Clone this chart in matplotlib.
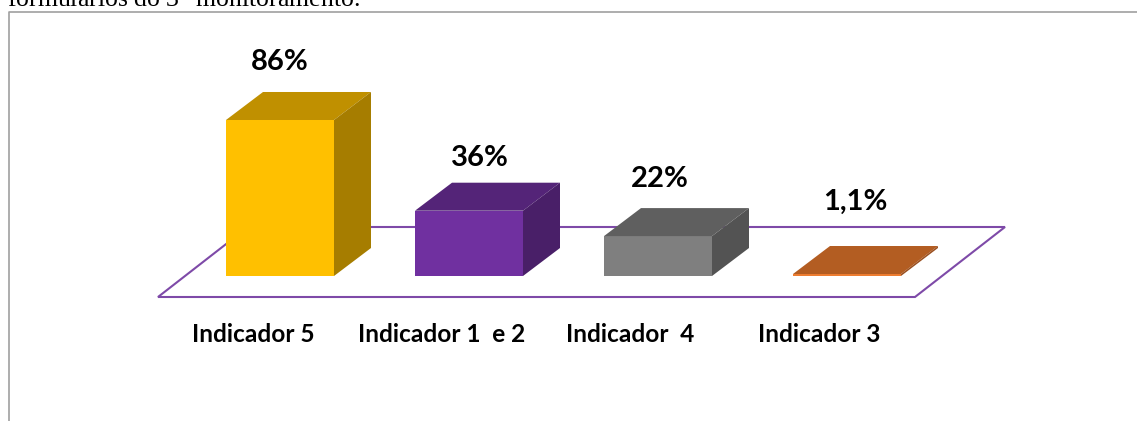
import matplotlib
matplotlib.use("Agg")
import matplotlib.pyplot as plt
from matplotlib.patches import Polygon, Rectangle

categories = ["Indicador 5", "Indicador 1  e 2", "Indicador  4", "Indicador 3"]
values = [86, 36, 22, 1.1]
value_labels = ["86%", "36%", "22%", "1,1%"]
front = ["#FFC000", "#7030A0", "#7F7F7F", "#ED7D31"]
top = ["#C09000", "#542478", "#5F5F5F", "#B35D22"]
side = ["#A67D00", "#491F68", "#535353", "#9A5020"]
# manually placed data labels in the original (pixel centres)
label_px_x = [280, 480, 660, 855]
label_px_y = [62, 158, 179, 202]
cat_px_x = [253, 442, 630, 819]

W, H = 1137, 421
fig = plt.figure(figsize=(W / 100, H / 100), dpi=100, facecolor="white")
ax = fig.add_axes([0, 0, 1, 1])
PX_X, PX_Y, X0, Y0 = 189.0, 1.814, 280.0, 276.0
ax.set_xlim(-X0 / PX_X, (W - X0) / PX_X)
ax.set_ylim((Y0 - H) / PX_Y, Y0 / PX_Y)
ax.axis("off")

bw = 108 / PX_X
dx = 37 / PX_X
dy = 28 / PX_Y

fx = lambda p: (p - X0) / PX_X
fy = lambda p: (Y0 - p) / PX_Y
# chart frame
ax.plot([fx(8.5), fx(8.5), fx(1137)], [fy(421), fy(12), fy(12)], color="#A0A0A0", lw=1.2, zorder=1)

# floor
floor = [(fx(158), fy(297)), (fx(915), fy(297)), (fx(1005), fy(227)), (fx(248), fy(227))]
ax.add_patch(Polygon(floor, closed=True, fill=False, edgecolor="#7E4AA8", lw=1.5, zorder=2))

for i, (v, f, t, s) in enumerate(zip(values, front, top, side)):
    l, r = i - bw / 2, i + bw / 2
    ax.add_patch(Rectangle((l, 0), bw, v, facecolor=f, edgecolor="none", zorder=4))
    ax.add_patch(Polygon([(l, v), (r, v), (r + dx, v + dy), (l + dx, v + dy)], closed=True,
                         facecolor=t, edgecolor="none", zorder=4))
    ax.add_patch(Polygon([(r, 0), (r + dx, dy), (r + dx, v + dy), (r, v)], closed=True,
                         facecolor=s, edgecolor="none", zorder=4))
    ax.text(fx(label_px_x[i]), fy(label_px_y[i]), value_labels[i], ha="center", va="center",
            fontsize=21, fontweight="bold", family="Lato", color="black", zorder=5)
    ax.text(fx(cat_px_x[i]), fy(334), categories[i], ha="center", va="center",
            fontsize=17.6, fontweight="bold", family="Lato", color="black", zorder=5)

# clipped document text above the chart
ax.text(fx(7), fy(6), "formulários do 3$^{\\mathrm{o}}$ monitoramento.", ha="left", va="baseline",
        fontsize=18.5, family="Liberation Serif", color="black", math_fontfamily="stix", zorder=5)

fig.savefig("out.png", dpi=100)
